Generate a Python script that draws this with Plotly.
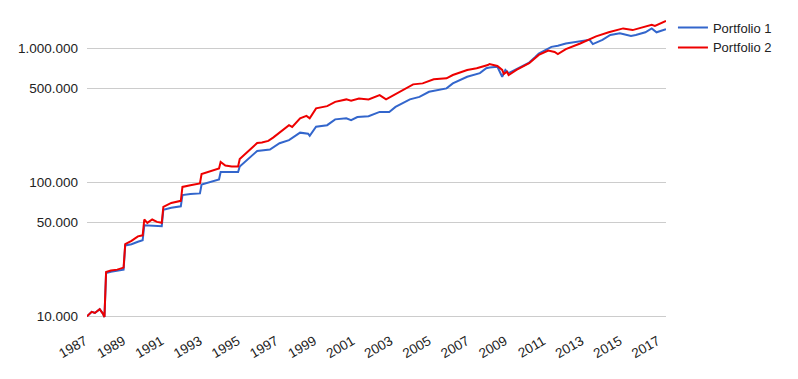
import plotly.graph_objects as go

# Portfolio 1 (blue)
dates_p1 = [
    "1987-01", "1987-03", "1987-04", "1987-06", "1987-09", "1987-10", "1987-11", "1987-12",
    "1988-01", "1988-04", "1988-08", "1988-12",
    "1989-01", "1989-05", "1989-09", "1989-12",
    "1990-01", "1990-06", "1990-12",
    "1991-01", "1991-06", "1991-12",
    "1992-01", "1992-06", "1992-12",
    "1993-01", "1993-12",
    "1994-01", "1994-12",
    "1995-01", "1995-12",
    "1996-08", "1997-02", "1997-08", "1998-03", "1998-08", "1998-09",
    "1999-01", "1999-08", "2000-01", "2000-08", "2000-11", "2001-03", "2001-10",
    "2002-05", "2002-11", "2003-03", "2003-12", "2004-06", "2004-12", "2005-11",
    "2006-03", "2006-12", "2007-08", "2007-12", "2008-02", "2008-07", "2008-10",
    "2008-12", "2009-02", "2009-07", "2010-03", "2010-07", "2010-09", "2011-05",
    "2011-09", "2012-02", "2012-11", "2013-05", "2013-07", "2014-01", "2014-06",
    "2014-12", "2015-07", "2015-10", "2016-04", "2016-08", "2016-11", "2017-05",
]
values_p1 = [
    10000, 10600, 10800, 10600, 11300, 10900, 10500, 9900,
    21000, 21500, 21800, 22300,
    33800, 34500, 36000, 36900,
    47700, 47500, 47000,
    62400, 64500, 66100,
    80100, 81500, 82500,
    96000, 104800,
    119000, 119000,
    131000, 171000,
    175000, 195000, 206000, 234000, 230000, 222000,
    259000, 266000, 294000, 299000, 290000, 306000, 310000,
    334000, 334000, 364000, 414000, 432000, 472000, 500000,
    545000, 611000, 650000, 706000, 715000, 725000, 611000,
    686000, 650000, 694000, 779000, 861000, 910000, 1020000,
    1040000, 1080000, 1130000, 1150000, 1070000, 1150000, 1250000,
    1290000, 1230000, 1250000, 1310000, 1400000, 1310000, 1380000,
]

# Portfolio 2 (red)
dates_p2 = [
    "1987-01", "1987-03", "1987-04", "1987-06", "1987-09", "1987-10", "1987-11", "1987-12",
    "1988-01", "1988-04", "1988-08", "1988-12",
    "1989-01", "1989-05", "1989-09", "1989-12",
    "1990-01", "1990-03", "1990-06", "1990-09", "1990-12",
    "1991-01", "1991-06", "1991-12",
    "1992-01", "1992-06", "1992-12",
    "1993-01", "1993-06", "1993-12",
    "1994-01", "1994-04", "1994-08", "1994-12",
    "1995-01", "1995-06", "1995-12",
    "1996-03", "1996-07", "1996-10", "1997-02", "1997-08", "1997-10",
    "1998-03", "1998-07", "1998-09", "1999-01", "1999-08", "2000-01", "2000-08",
    "2000-11", "2001-04", "2001-10", "2002-05", "2002-09", "2003-03", "2003-07",
    "2004-02", "2004-08", "2005-03", "2005-11", "2006-03", "2006-12", "2007-06",
    "2008-01", "2008-02", "2008-07", "2008-10", "2008-11", "2009-01", "2009-02",
    "2009-07", "2010-03", "2010-07", "2010-09", "2011-03", "2011-07", "2011-09",
    "2012-02", "2012-11", "2013-09", "2014-05", "2015-02", "2015-08", "2016-02",
    "2016-08", "2016-10", "2017-04", "2017-05",
]
values_p2 = [
    10000, 10600, 10800, 10600, 11300, 10900, 10500, 9900,
    21400, 22000, 22300, 23100,
    34500, 36500, 39500, 40200,
    52700, 49800, 52700, 50600, 49800,
    65400, 70100, 72600,
    92200, 95000, 97800,
    115000, 120000, 126500,
    141600, 133000, 131000, 131000,
    149000, 170000, 196000,
    198000, 203000, 215000, 233000, 266000, 258000,
    299000, 312000, 299000, 355000, 369000, 397000, 414000,
    404000, 420000, 414000, 445000, 414000, 452000, 480000,
    536000, 545000, 584000, 594000, 629000, 686000, 706000,
    747000, 760000, 735000, 686000, 640000, 666000, 629000,
    686000, 770000, 846000, 888000, 958000, 935000, 902000,
    981000, 1080000, 1220000, 1310000, 1400000, 1360000, 1420000,
    1490000, 1460000, 1570000, 1590000,
]

tick_years = list(range(1987, 2018, 2))
y_tickvals = [10000, 50000, 100000, 500000, 1000000]
y_ticktext = ["10.000", "50.000", "100.000", "500.000", "1.000.000"]

fig = go.Figure()
fig.add_trace(go.Scatter(x=dates_p1, y=values_p1, mode="lines", name="Portfolio 1",
                         line=dict(color="#3366cc", width=2)))
fig.add_trace(go.Scatter(x=dates_p2, y=values_p2, mode="lines", name="Portfolio 2",
                         line=dict(color="#ee0000", width=2)))

font_family = "Arial, Liberation Sans, sans-serif"
fig.update_layout(
    width=798, height=379,
    margin=dict(l=87, r=132, t=15, b=59, autoexpand=False),
    paper_bgcolor="white", plot_bgcolor="white",
    font=dict(family=font_family, size=13, color="#222222"),
    showlegend=True,
    legend=dict(x=1.012, y=1.008, xanchor="left", yanchor="top",
                font=dict(size=13, color="#222222"), itemwidth=30,
                tracegroupgap=0, bgcolor="rgba(0,0,0,0)"),
    xaxis=dict(type="date", range=["1987-01-01", "2017-05-01"],
               tickvals=[f"{y}-01-01" for y in tick_years],
               ticktext=[str(y) for y in tick_years],
               tickangle=-30, showgrid=False, zeroline=False, showline=False,
               ticks="", automargin=False,
               ticklabelstandoff=10, ticklabelshift=-2,
               tickfont=dict(size=13.5, color="#222222")),
    yaxis=dict(type="log", range=[3.973, 6.246],
               tickvals=y_tickvals, ticktext=y_ticktext,
               showgrid=True, gridcolor="#cccccc", gridwidth=1,
               zeroline=False, showline=False, ticks="", automargin=False,
               ticklabelstandoff=8,
               tickfont=dict(size=13.5, color="#222222")),
)

fig.write_html("out.html", config={"displayModeBar": False},
               post_script="document.body.style.margin='0';")
